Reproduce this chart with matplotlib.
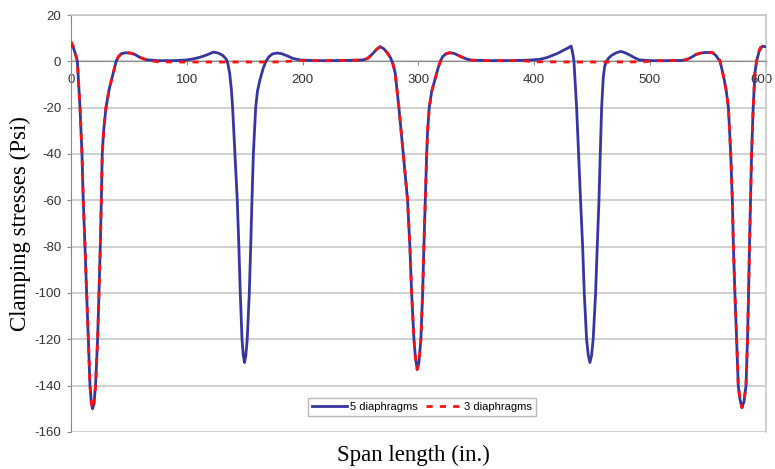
import numpy as np
import matplotlib
matplotlib.use("Agg")
import matplotlib.pyplot as plt
import matplotlib.transforms as mtransforms

plt.rcParams["axes.unicode_minus"] = False

# values (span position in., clamping stress psi)
blue_x = [0, 2, 4, 5.5, 7.8, 9.5, 10.6, 12.1, 13.5, 15, 16.4, 17.5, 18.6, 19.8, 21.2, 23, 24.2, 25.3, 26.2, 27,
          28.2, 30.2, 33, 36.5, 39, 41, 43.5, 47, 51, 55, 60, 65, 75, 90, 100, 105, 111, 117, 123, 127,
          131, 134, 135.5, 137, 138.5, 139.6, 141.6, 143.6, 145, 146.2, 147.7, 148.8, 149.9, 151, 152.2, 154, 155.2, 156.3, 157.5, 159.5,
          161, 163.2, 166, 168.4, 171, 174, 178, 182, 187, 192, 198, 210, 225, 240, 252, 256, 260, 264, 267, 270,
          273, 276, 278, 280, 283.2, 287, 290.7, 292.7, 294.2, 296.2, 297.5, 299, 300.5, 302.2, 303.7, 304.8, 306, 307.2, 308, 309.4,
          311.5, 314.3, 317, 319, 321, 324, 327, 331, 336, 341, 346, 360, 375, 388, 398, 405, 411, 416, 421, 425,
          429, 432, 433.5, 434.4, 436.7, 438.4, 440.1, 441.9, 443.3, 445.3, 446.8, 448.2, 449.6, 451, 453.1, 454.5, 456, 457.1, 458.3, 459.7,
          461, 462.6, 464.5, 467, 471, 475, 479, 483, 487, 491, 500, 515, 528, 532, 536, 540, 544, 548, 554, 557,
          559, 560.4, 562, 564.2, 566, 567.8, 569.8, 571.2, 572.1, 573.4, 574.9, 576.3, 577.8, 579.5, 581.2, 583, 584.3, 585.2, 586, 586.9,
          587.8, 589.2, 590.7, 592.1, 594.4, 597, 600]
blue_y = [7, 6, 3, 0, -20, -40, -60, -80, -100, -120, -140, -147, -150, -148, -140, -120, -100, -80, -60, -40,
          -30, -20, -12, -5, 0, 2, 3.3, 3.7, 3.6, 3, 1.6, 0.7, 0.3, 0.3, 0.6, 1, 1.7, 2.7, 4, 3.6,
          2.6, 1, -1, -5, -12, -20, -40, -60, -80, -100, -120, -127, -130, -127, -120, -100, -80, -60, -40, -20,
          -13, -8, -3, 0, 2, 3.2, 3.6, 3.3, 2.3, 1.2, 0.6, 0.3, 0.3, 0.4, 0.6, 1.2, 3, 5.2, 6.3, 5.5,
          3.8, 1.5, -1, -5, -20, -40, -60, -80, -100, -120, -128, -133, -130, -120, -100, -80, -60, -40, -30, -20,
          -13, -8, -3, 0, 2, 3.3, 3.7, 3.4, 2.2, 1.1, 0.5, 0.3, 0.3, 0.4, 0.6, 0.9, 1.6, 2.6, 3.6, 4.7,
          5.7, 6.6, 3, 0, -20, -40, -60, -80, -100, -120, -127, -130, -127, -120, -100, -80, -60, -40, -20, -7,
          -2, 0, 1.5, 2.6, 3.7, 4.3, 3.6, 2.6, 1.5, 0.6, 0.3, 0.3, 0.4, 0.8, 1.8, 3, 3.6, 3.8, 3.8, 2.5,
          1, 0.4, -3, -8, -13, -20, -40, -60, -80, -100, -120, -140, -146, -149.5, -147, -140, -120, -100, -80, -60,
          -40, -20, -5, 0, 4.5, 6.5, 6.3]

red_x = [0, 2, 4, 5.5, 7.8, 9.5, 10.6, 12.1, 13.5, 15, 16.4, 17.5, 18.6, 19.8, 21.2, 23, 24.2, 25.3, 26.2, 27,
         28.2, 30.2, 33, 36.5, 39, 41, 43.5, 47, 51, 55, 60, 65, 70, 75, 90, 120, 150, 175, 185, 192,
         198, 210, 225, 240, 252, 256, 260, 264, 267, 270, 273, 276, 278, 280, 283.2, 287, 290.7, 292.7, 294.2, 296.2,
         297.5, 299, 300.5, 302.2, 303.7, 304.8, 306, 307.2, 308, 309.4, 311.5, 314.3, 317, 319, 321, 324, 327, 331, 336, 341,
         346, 360, 375, 388, 394, 400, 430, 465, 495, 502, 510, 528, 532, 536, 540, 544, 548, 554, 557, 559,
         560.4, 562, 564.2, 566, 567.8, 569.8, 571.2, 572.1, 573.4, 574.9, 576.3, 577.8, 579.5, 581.2, 583, 584.3, 585.2, 586, 586.9, 587.8,
         589.2, 590.7, 592.1, 594.4, 597, 598.5]
red_y = [8.5, 6.5, 3, 0, -20, -40, -60, -80, -100, -120, -140, -147, -150, -148, -140, -120, -100, -80, -60, -40,
         -30, -20, -12, -5, 0, 2, 3.3, 3.7, 3.6, 3, 1.6, 0.7, 0.2, -0.2, -0.3, -0.3, -0.3, -0.3, -0.1, 0.2,
         0.4, 0.3, 0.3, 0.4, 0.6, 1.2, 3, 5.2, 6.3, 5.5, 3.8, 1.5, -1, -5, -20, -40, -60, -80, -100, -120,
         -128, -133, -130, -120, -100, -80, -60, -40, -30, -20, -13, -8, -3, 0, 2, 3.3, 3.7, 3.4, 2.2, 1.1,
         0.5, 0.3, 0.3, 0.4, 0.1, -0.2, -0.3, -0.3, -0.2, 0.2, 0.3, 0.4, 0.8, 1.8, 3, 3.6, 3.8, 3.8, 2.5, 1,
         0.4, -3, -8, -13, -20, -40, -60, -80, -100, -120, -140, -146, -149.5, -147, -140, -120, -100, -80, -60, -40,
         -20, -5, 0, 4.8, 7.5, 7]

x_ticks = [0, 100, 200, 300, 400, 500, 600]
y_ticks = np.arange(-160, 21, 20)

fig = plt.figure(figsize=(7.75, 4.69), dpi=100)
ax = fig.add_axes([0.0916, 0.079, 0.8964, 0.889])

ax.plot(blue_x, blue_y, color="#36369e", lw=2.0, label="5 diaphragms", zorder=3)
ax.plot(red_x, red_y, color="#ff1010", lw=2.0, ls=(0, (2.2, 2.6)), label="3 diaphragms", zorder=4)

ax.set_xlim(0, 600)
ax.set_ylim(-160, 20)
ax.set_yticks(y_ticks)
ax.set_xticks(x_ticks)
ax.yaxis.grid(True, color="#c4c4c4", lw=1.1)
ax.set_axisbelow(True)

# x axis sits on the zero line like in the excel chart
ax.spines["bottom"].set_position(("data", 0))
ax.spines["bottom"].set_color("#8a8a8a")
ax.spines["left"].set_color("#8a8a8a")
for s in ["top", "right"]:
    ax.spines[s].set_color("#c4c4c4")
    ax.spines[s].set_linewidth(1.1)

ax.tick_params(axis="y", direction="out", length=3, color="#8a8a8a", pad=4,
               labelsize=9.5, labelcolor="#333333")
ax.tick_params(axis="x", direction="out", length=3, color="#8a8a8a", pad=6,
               labelsize=9.5, labelcolor="#333333")
for lbl in ax.get_xticklabels() + ax.get_yticklabels():
    lbl.set_fontfamily("Liberation Sans")

# nudge the last x label so it stays inside the figure
last = ax.get_xticklabels()[-1]
last.set_transform(last.get_transform() + mtransforms.ScaledTranslation(-4 / 100, 0, fig.dpi_scale_trans))

ax.set_ylabel("Clamping stresses (Psi)", fontfamily="Liberation Serif", fontsize=16.5)
ax.yaxis.set_label_coords(-0.057, 0.5)
fig.text(0.534, 0.03, "Span length (in.)", fontfamily="Liberation Serif", fontsize=16.5,
         ha="center", va="center")

leg = ax.legend(loc="lower center", bbox_to_anchor=(0.505, 0.038), borderaxespad=0, ncol=2,
                prop={"family": "Liberation Sans", "size": 8}, frameon=True, fancybox=False,
                handlelength=3.2, handletextpad=0.2, columnspacing=0.8, borderpad=0.35)
leg.get_frame().set_edgecolor("#a8a8a8")
leg.get_frame().set_linewidth(1.0)

fig.savefig("out.png", dpi=100)
